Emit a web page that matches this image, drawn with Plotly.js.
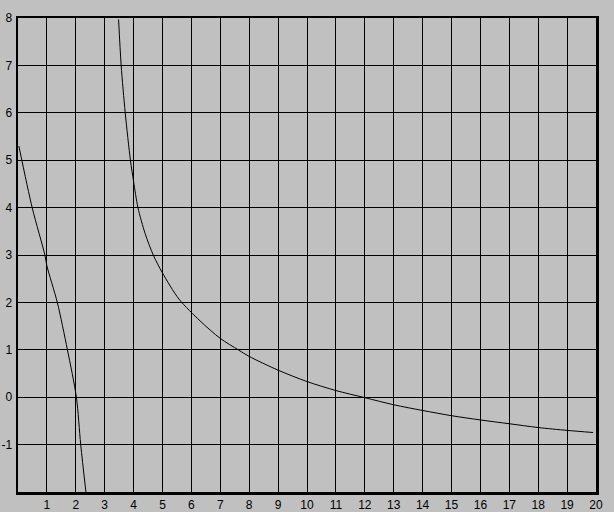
<!DOCTYPE html>
<html><head><meta charset="utf-8">
<script src="https://cdn.plot.ly/plotly-3.0.1.min.js"></script>
<style>html,body{margin:0;padding:0;background:#c0c0c0;}#plot{width:614px;height:512px;}</style>
</head><body><div id="plot"></div>
<script>
const curve1X = [0.03, 0.49, 0.93, 1.0, 1.36, 1.71, 2.02, 2.17, 2.35];
const curve1Y = [5.3, 4.0, 3.0, 2.77, 2.0, 1.0, 0.0, -1.0, -2.0];
const curve2X = [3.48, 3.57, 3.71, 3.89, 4.0, 4.15, 4.4, 4.68, 5.0, 5.57, 6.3, 7.0, 7.62, 8.0, 9.0, 10.0, 11.0, 12.0, 13.0, 14.0, 15.0, 16.0, 17.0, 18.0, 19.0, 19.9];
const curve2Y = [7.97, 7.0, 6.0, 5.0, 4.55, 4.0, 3.45, 3.0, 2.62, 2.07, 1.61, 1.24, 1.0, 0.86, 0.57, 0.33, 0.14, -0.01, -0.16, -0.28, -0.39, -0.48, -0.56, -0.64, -0.70, -0.745];
const xTicks = [1,2,3,4,5,6,7,8,9,10,11,12,13,14,15,16,17,18,19,20];
const yTicks = [-1,0,1,2,3,4,5,6,7,8];

const traces = [
  {x: curve1X, y: curve1Y, mode: 'lines', line: {color: '#000', width: 1, shape: 'spline', smoothing: 0.8}, hoverinfo: 'skip'},
  {x: curve2X, y: curve2Y, mode: 'lines', line: {color: '#000', width: 1, shape: 'spline', smoothing: 0.8}, hoverinfo: 'skip'}
];
const axisCommon = {
  showgrid: true, gridcolor: '#000', gridwidth: 1,
  showline: true, linecolor: '#000', linewidth: 2.5, mirror: true,
  zeroline: false, ticks: '', tickfont: {family: 'Liberation Sans, Arial, sans-serif', size: 12, color: '#000'}
};
const layout = {
  width: 614, height: 512,
  paper_bgcolor: '#c0c0c0', plot_bgcolor: '#c0c0c0',
  margin: {l: 18, r: 18, t: 18, b: 20},
  showlegend: false,
  xaxis: Object.assign({}, axisCommon, {range: [0, 20], tickmode: 'array', tickvals: xTicks, ticktext: xTicks.map(String), ticklabelstandoff: 0}),
  yaxis: Object.assign({}, axisCommon, {range: [-2, 8], tickmode: 'array', tickvals: yTicks, ticktext: yTicks.map(String), ticklabelstandoff: 1})
};
Plotly.newPlot('plot', traces, layout, {staticPlot: true, displayModeBar: false});
</script></body></html>
